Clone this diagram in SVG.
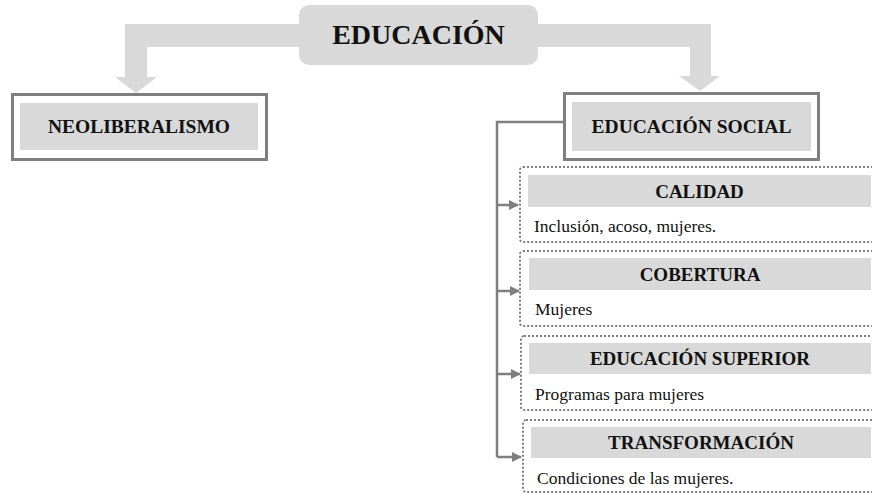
<svg xmlns="http://www.w3.org/2000/svg" width="872" height="493" viewBox="0 0 872 493">
<defs>
<style>
.big{fill:#d9d9d9}
.hd{fill:#d9d9d9}
.frame{fill:#fff;stroke:#7f7f7f;stroke-width:3}
.dot{fill:#fff;stroke:#7f7f7f;stroke-width:2;stroke-dasharray:2 2}
text{font-family:'Liberation Serif','DejaVu Serif',serif}
.tb{font-weight:bold;fill:#111;text-anchor:middle}
.tr{fill:#111;font-size:17.5px}
.con{fill:none;stroke:#7f7f7f;stroke-width:2.5}
</style>
<marker id="ah" viewBox="0 0 10 10" refX="9" refY="5" markerWidth="4" markerHeight="4" orient="auto" markerUnits="strokeWidth">
<path d="M0,0 L10,5 L0,10 z" fill="#7f7f7f"/>
</marker>
</defs>
<rect width="872" height="493" fill="#fff"/>
<g id="big-arrows">
<path class="big" d="M125,24 H711 V76 H720 L700,91 L679,76 H690 V47 H147 V77 H157 L136,93 L115,77 H125 Z"/>
</g>
<g id="educacion">
<rect x="299" y="5" width="239" height="60" rx="10" class="big"/>
<text x="418.5" y="44" class="tb" font-size="28" font-family="Liberation Serif, serif">EDUCACIÓN</text>
</g>
<g id="neoliberalismo">
<rect x="12.5" y="94.5" width="254" height="65" class="frame"/>
<rect x="20" y="103" width="238" height="47" class="hd"/>
<text x="139" y="133" class="tb" font-size="19.5" font-family="Liberation Serif, serif">NEOLIBERALISMO</text>
</g>
<g id="educacion-social">
<rect x="564.5" y="93.5" width="254" height="66" class="frame"/>
<rect x="572" y="102" width="239" height="49" class="hd"/>
<text x="691.5" y="133" class="tb" font-size="19.5" font-family="Liberation Serif, serif">EDUCACIÓN SOCIAL</text>
</g>
<g id="connectors">
<path class="con" d="M564,122 H497 V457"/>
<path class="con" d="M497,205 H518" marker-end="url(#ah)"/>
<path class="con" d="M497,291 H519" marker-end="url(#ah)"/>
<path class="con" d="M497,374 H520" marker-end="url(#ah)"/>
<path class="con" d="M497,457 H521" marker-end="url(#ah)"/>
</g>
<g id="calidad" font-family="Liberation Serif, serif">
<rect x="520" y="167" width="370" height="75" rx="3" class="dot"/>
<rect x="528" y="175" width="343" height="32" class="hd"/>
<text x="699.5" y="197.5" class="tb" font-size="19">CALIDAD</text>
<text x="534" y="232" class="tr">Inclusión, acoso, mujeres.</text>
</g>
<g id="cobertura" font-family="Liberation Serif, serif">
<rect x="520" y="251" width="370" height="75" rx="3" class="dot"/>
<rect x="529" y="258" width="342" height="32" class="hd"/>
<text x="700" y="280.5" class="tb" font-size="19">COBERTURA</text>
<text x="535" y="315" class="tr">Mujeres</text>
</g>
<g id="educacion-superior" font-family="Liberation Serif, serif">
<rect x="521" y="336" width="370" height="74" rx="3" class="dot"/>
<rect x="529" y="343" width="342" height="31" class="hd"/>
<text x="700" y="365" class="tb" font-size="19">EDUCACIÓN SUPERIOR</text>
<text x="535" y="400" class="tr">Programas para mujeres</text>
</g>
<g id="transformacion" font-family="Liberation Serif, serif">
<rect x="523" y="420" width="370" height="72" rx="3" class="dot"/>
<rect x="531" y="427" width="340" height="31" class="hd"/>
<text x="701" y="449" class="tb" font-size="19">TRANSFORMACIÓN</text>
<text x="537" y="484" class="tr">Condiciones de las mujeres.</text>
</g>
</svg>
